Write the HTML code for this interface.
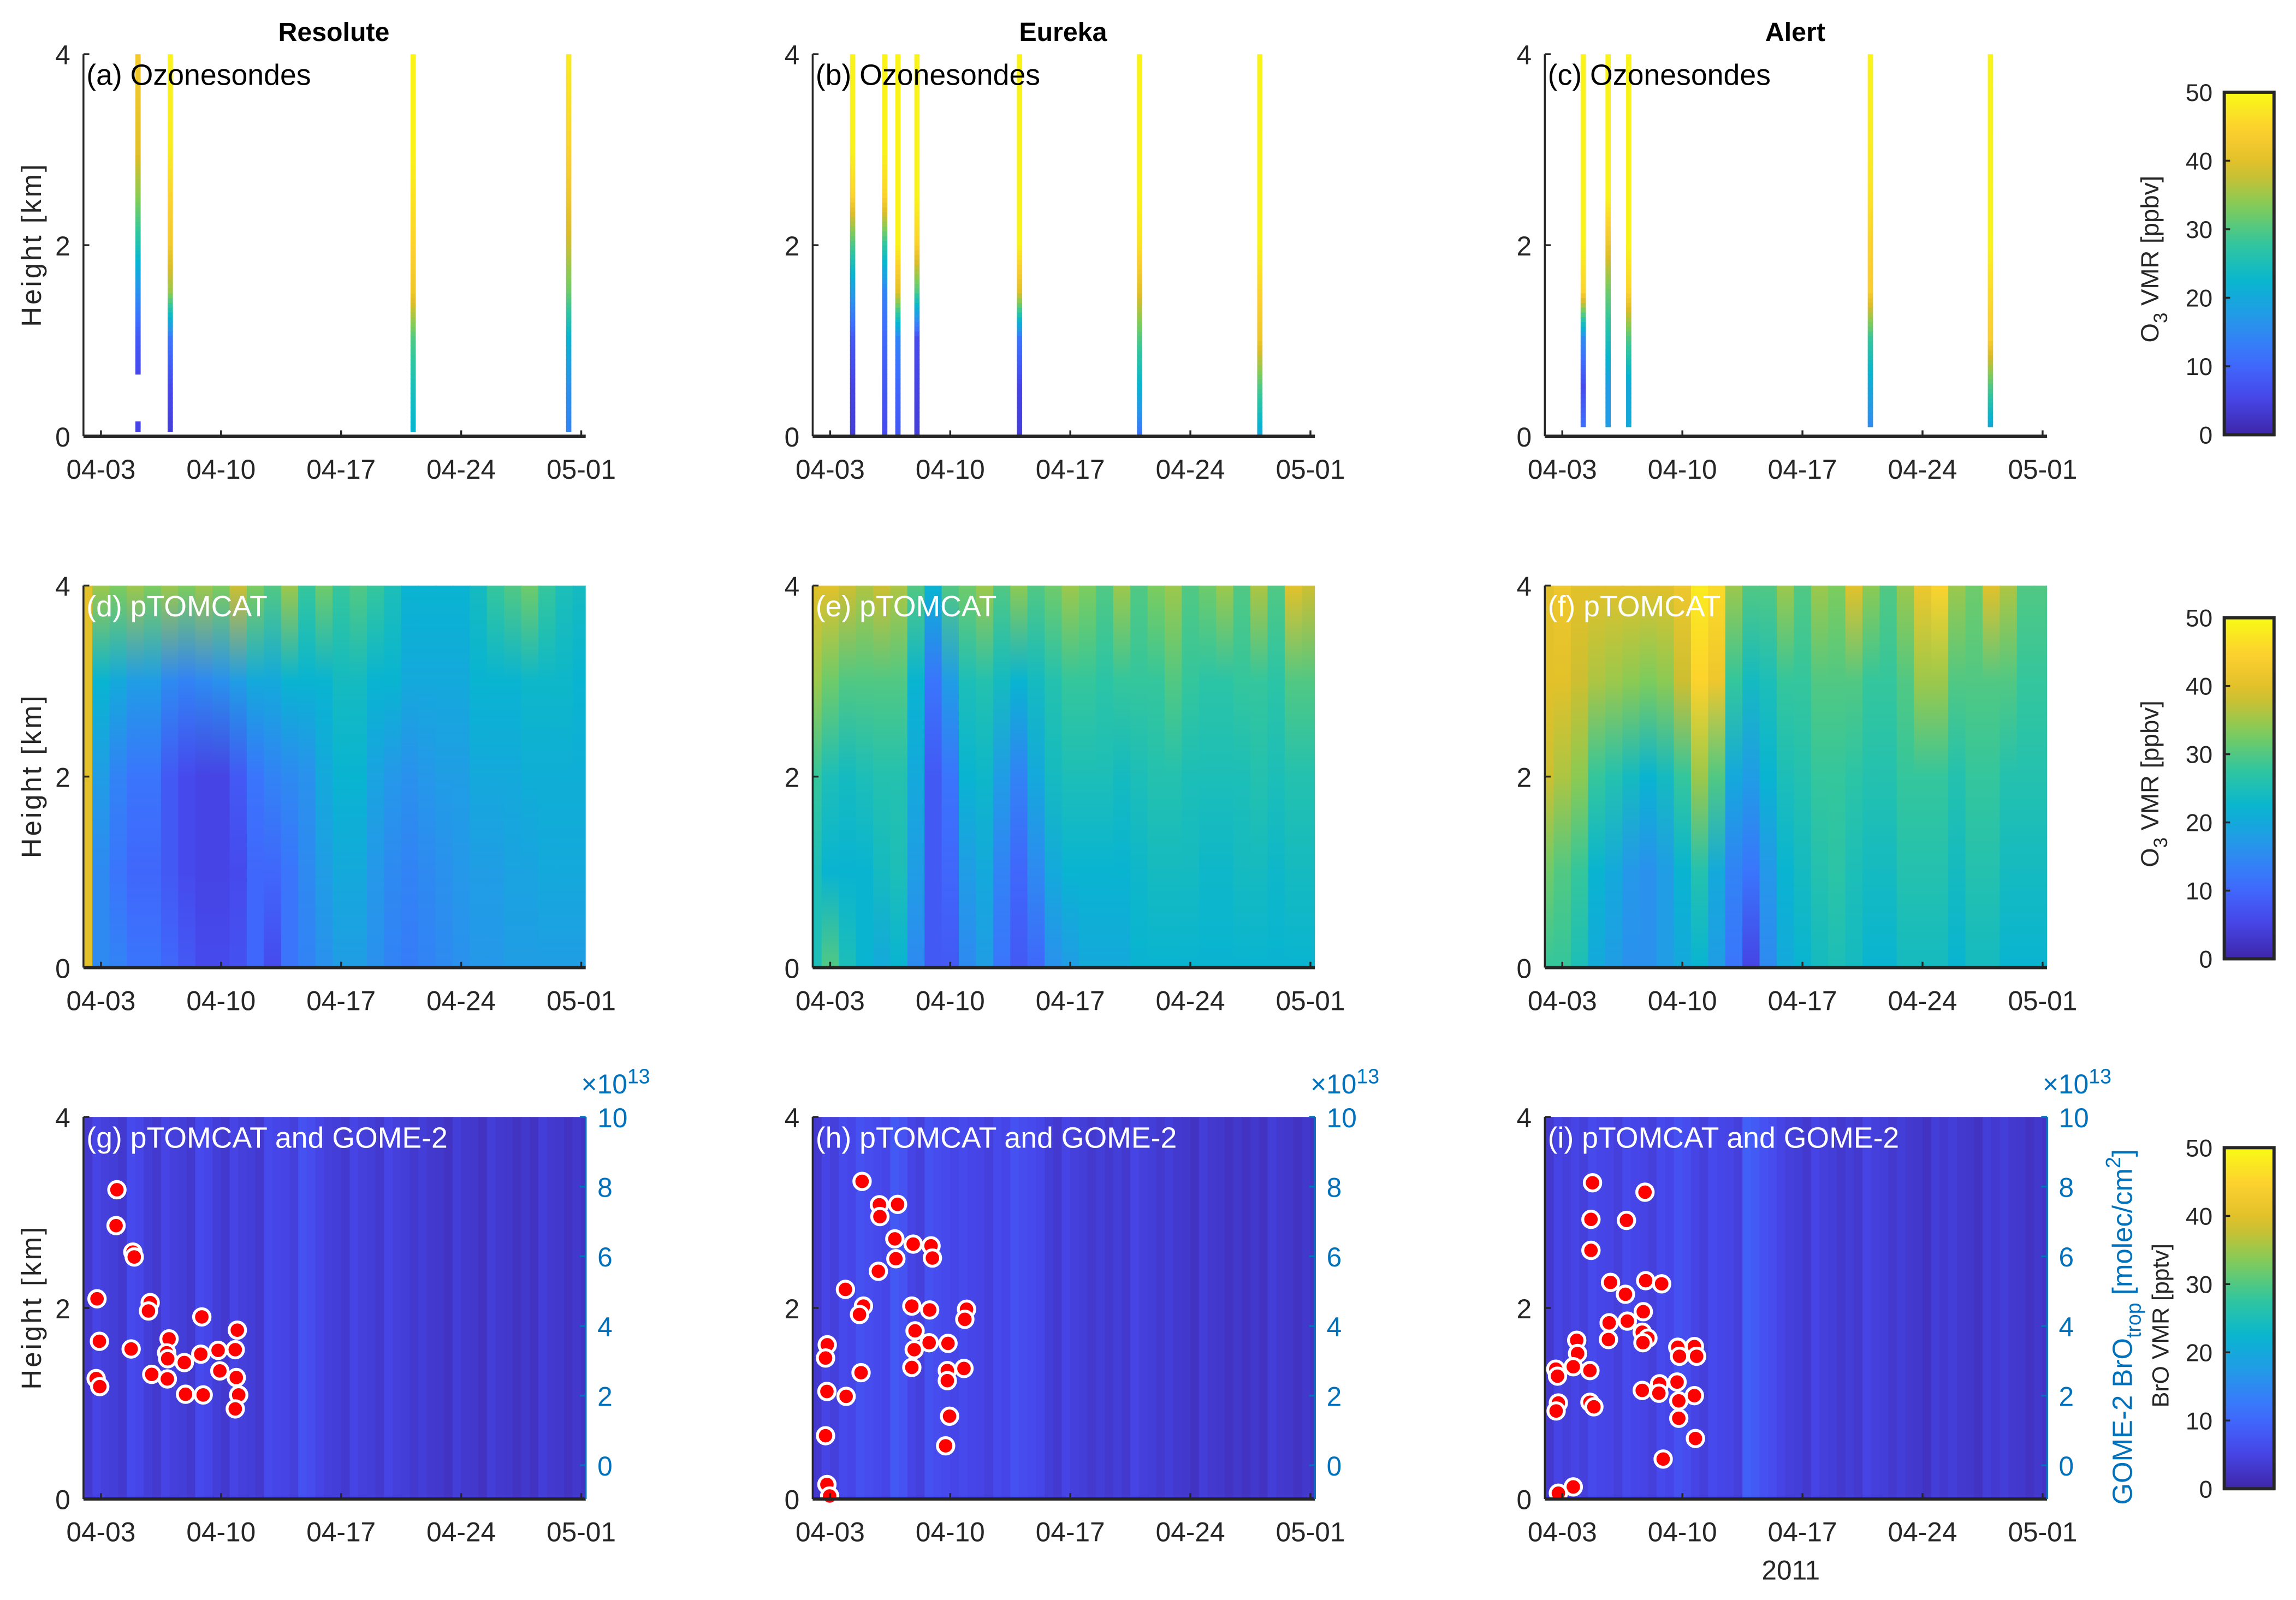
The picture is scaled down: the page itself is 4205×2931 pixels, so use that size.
<!DOCTYPE html>
<html><head><meta charset="utf-8"><style>
html,body{margin:0;padding:0;background:#fff;}
svg{display:block;font-family:"Liberation Sans",Arial,sans-serif;}
</style></head><body>
<svg id="fig" xmlns="http://www.w3.org/2000/svg" width="4205" height="2931" viewBox="0 0 1568 1093" preserveAspectRatio="none">
<defs id="defs"></defs>
<g id="root"></g>
</svg>
<script>
// ---------- data ----------
const sites = ["Resolute","Eureka","Alert"];
const tickDays = [3,10,17,24,31];
const tickLabels = ["04-03","04-10","04-17","04-24","05-01"];
const heightTicks = [0,2,4];
const cbTicks = [0,10,20,30,40,50];
const rightTicks = [0,2,4,6,8,10];
const modelLevels = [0,1,2,3,4];
const modelDays = [2,3,4,5,6,7,8,9,10,11,12,13,14,15,16,17,18,19,20,21,22,23,24,25,26,27,28,29,30,31];
const o3Resolute = [[40,40,40,40,40],[15,15,18,22,35],[14,12,14,20,33],[12,10,12,18,35],[12,10,12,18,33],[10,8,8,15,35],[8,6,6,14,33],[6,5,5,15,35],[6,5,5,16,33],[7,6,8,18,38],[10,10,12,20,33],[6,10,14,20,30],[12,12,15,22,35],[14,15,16,22,28],[16,18,20,22,32],[18,20,22,24,28],[18,20,22,24,30],[16,17,19,22,28],[14,15,17,22,25],[13,14,16,20,22],[14,15,17,20,22],[15,16,18,20,22],[16,17,18,20,22],[17,18,20,22,24],[17,18,20,22,28],[18,19,20,22,30],[18,19,21,23,32],[18,20,21,23,28],[18,20,21,23,25],[18,20,21,22,24]];
const o3Eureka = [[25,25,28,35,40],[30,22,25,32,40],[25,22,24,30,38],[22,22,25,30,36],[20,24,26,30,38],[22,25,26,30,36],[15,18,20,22,30],[8,8,8,12,22],[8,10,12,18,30],[15,18,22,25,32],[18,20,23,26,35],[12,14,18,24,30],[8,10,14,22,34],[10,15,20,24,30],[16,20,24,26,32],[18,22,25,28,35],[20,22,25,28,33],[20,22,25,27,30],[20,22,24,28,35],[22,23,25,28,30],[22,24,26,28,33],[22,24,26,30,35],[22,24,25,28,30],[22,23,25,27,32],[22,23,25,27,35],[22,24,25,28,30],[22,24,26,28,36],[22,23,25,27,30],[22,24,26,30,40],[22,24,26,30,38]];
const o3Alert = [[28,32,38,40,40],[28,30,36,40,42],[25,28,34,38,40],[20,22,28,36,40],[18,20,26,35,40],[16,17,24,34,40],[16,16,22,33,40],[18,18,24,34,40],[20,22,28,38,42],[22,26,35,45,48],[18,20,30,42,46],[12,14,20,28,35],[5,12,18,24,30],[15,17,22,25,30],[20,22,25,28,35],[22,24,26,28,30],[24,26,28,30,35],[25,27,28,30,33],[24,25,27,30,40],[22,24,26,28,34],[22,24,26,28,30],[24,26,28,30,35],[24,26,28,35,42],[24,26,28,35,45],[22,24,26,30,35],[24,26,28,30,32],[24,26,28,30,40],[22,24,26,30,36],[22,24,26,28,30],[22,24,26,28,30]];
const broResolute = [4,5,4,6,4,5,4,6,4,5,4,6,5,7,5,4,5,4,5,4,4,3,4,3,4,3,3,4,3,3];
const broEureka = [4,5,6,7,6,8,5,7,6,6,5,6,7,6,4,5,4,4,4,5,4,4,3,4,3,3,3,4,3,3];
const broAlert = [4,5,5,6,5,6,5,6,7,5,6,5,9,7,5,4,5,4,4,5,4,4,3,4,4,3,4,4,3,3];
const sondeLevels = [0,0.5,1,1.5,2,2.5,3,4];
const sondeDaysResolute = [5.16,7.04,21.2,30.27];
const sondeBottomResolute = [0.05,0.05,0.05,0.05];
const sondeProfResolute = [[5,5,8,16,26,34,40,43],[4,6,12,35,43,45,48,49],[22,25,30,42,45,47,49,49],[14,16,22,32,38,42,45,48]];
const sondeDaysEureka = [4.31,6.18,6.95,8.06,14.04,21.04,28.05];
const sondeBottomEureka = [0,0,0,0,0,0,0];
const sondeProfEureka = [[4,5,8,18,30,45,49,49],[6,8,10,14,28,45,49,49],[8,10,14,40,49,49,49,49],[4,5,6,30,45,49,49,49],[4,5,12,40,49,49,49,49],[12,22,30,40,47,49,49,49],[20,30,42,45,49,49,49,49]];
const sondeDaysAlert = [4.22,5.67,6.87,20.96,27.96];
const sondeBottomAlert = [0.1,0.1,0.1,0.1,0.1];
const sondeProfAlert = [[12,6,15,45,49,49,49,49],[18,18,25,32,42,49,49,49],[20,20,30,45,49,49,49,49],[14,20,28,44,45,47,48,49],[18,30,44,46,49,49,49,49]];
const gomeDaysResolute = [3.93,3.88,4.86,4.94,2.77,5.87,5.77,8.88,10.95,2.91,4.76,6.97,6.83,6.89,7.86,8.82,9.83,10.83,9.93,10.89,5.96,6.87,2.72,2.93,7.93,8.96,11.03,10.83];
const gomeValsResolute = [7.91,6.88,6.12,5.98,4.78,4.67,4.43,4.26,3.88,3.56,3.34,3.63,3.23,3.06,2.95,3.19,3.30,3.32,2.71,2.52,2.61,2.48,2.49,2.26,2.04,2.02,2.02,1.62];
const gomeDaysEureka = [4.86,5.87,6.93,5.90,6.77,7.84,8.88,6.83,8.96,5.81,3.89,4.94,4.71,7.76,8.80,10.95,10.85,7.95,2.83,2.73,7.90,8.77,9.87,4.80,7.76,9.83,10.80,9.83,2.81,3.93,9.96,2.73,9.73,2.81,2.97];
const gomeValsEureka = [8.15,7.48,7.49,7.14,6.50,6.35,6.30,5.93,5.95,5.57,5.05,4.57,4.33,4.57,4.46,4.48,4.19,3.86,3.46,3.08,3.32,3.52,3.50,2.66,2.81,2.72,2.78,2.43,2.12,1.98,1.41,0.85,0.56,-0.55,-0.88];
const gomeDaysAlert = [4.76,7.82,4.67,6.74,4.67,5.81,7.86,8.79,6.68,7.72,5.73,6.79,7.66,7.99,7.70,3.84,5.69,3.89,9.73,10.70,9.83,10.83,2.62,3.64,4.61,2.72,9.69,8.67,7.66,8.63,9.79,10.70,2.77,2.64,4.61,4.84,9.79,10.76,8.88,3.64,2.77];
const gomeValsAlert = [8.11,7.84,7.06,7.03,6.17,5.25,5.30,5.21,4.91,4.41,4.09,4.14,3.82,3.65,3.52,3.59,3.61,3.21,3.39,3.41,3.13,3.13,2.76,2.83,2.72,2.56,2.39,2.34,2.15,2.07,1.85,2.00,1.79,1.56,1.81,1.68,1.35,0.77,0.18,-0.62,-0.80];

// ---------- helpers ----------
const NS="http://www.w3.org/2000/svg";
const root=document.getElementById('root');
const defs=document.getElementById('defs');
const parula=[[62,38,168],[71,71,235],[62,111,255],[39,150,235],[8,181,208],[49,198,159],[129,204,89],[220,189,41],[252,207,48],[249,251,21]];
function col(v){let t=Math.max(0,Math.min(1,v/50))*(parula.length-1);let i=Math.min(parula.length-2,Math.floor(t));let f=t-i;const a=parula[i],b=parula[i+1];return `rgb(${Math.round(a[0]+(b[0]-a[0])*f)},${Math.round(a[1]+(b[1]-a[1])*f)},${Math.round(a[2]+(b[2]-a[2])*f)})`;}
function el(tag,attrs,parent){const e=document.createElementNS(NS,tag);for(const k in attrs)e.setAttribute(k,attrs[k]);(parent||root).appendChild(e);return e;}
const colX=[57,555,1055], rowY=[37,400,763], W=343, H=261;
const D0=1.98, PXD=11.714;
function xs(c,d){return colX[c]+(d-D0)*PXD;}
function ys(r,h){return rowY[r]+H-h/4*H;}
function yr(r,v){return rowY[r]+238-v*23.8;}
let gid=0;
function vgrad(levels,vals){const id='g'+(gid++);const g=el('linearGradient',{id:id,x1:0,y1:1,x2:0,y2:0},defs);levels.forEach((h,i)=>{el('stop',{offset:h/4,'stop-color':col(vals[i])},g);});return id;}
function txt(s,attrs,parent){const t=el('text',attrs,parent);t.textContent=s;return t;}

const o3Model=[o3Resolute,o3Eureka,o3Alert];
const broModel=[broResolute,broEureka,broAlert];
const sDays=[sondeDaysResolute,sondeDaysEureka,sondeDaysAlert];
const sBot=[sondeBottomResolute,sondeBottomEureka,sondeBottomAlert];
const sProf=[sondeProfResolute,sondeProfEureka,sondeProfAlert];
const gDays=[gomeDaysResolute,gomeDaysEureka,gomeDaysAlert];
const gVals=[gomeValsResolute,gomeValsEureka,gomeValsAlert];
const letters=[["a","b","c"],["d","e","f"],["g","h","i"]];
const TF=18.5;

for(let c=0;c<3;c++){
  const tt=txt(sites[c],{x:colX[c]+171,y:28,'text-anchor':'middle','font-size':18,'font-weight':'bold'});
  
  
  for(let r=0;r<3;r++){
    const pg=el('g',{});
    
    
    const cid='clip'+r+c;
    const cp=el('clipPath',{id:cid},defs);
    el('rect',{x:colX[c],y:rowY[r],width:W,height:H},cp);
    const plot=el('g',{'clip-path':`url(#${cid})`},pg);
    if(r===0){
      sDays[c].forEach((d,i)=>{
        const prof=sProf[c][i];
        for(let h=sBot[c][i];h<4-1e-6;h+=0.05){
          if(c===0&&i===0&&h>0.15&&h<0.65)continue;
          let k=0;while(k<sondeLevels.length-2&&sondeLevels[k+1]<h)k++;
          const f=(h-sondeLevels[k])/(sondeLevels[k+1]-sondeLevels[k]);
          const v=prof[k]+(prof[k+1]-prof[k])*Math.min(1,Math.max(0,f));
          const rr=el('rect',{x:xs(c,d)-1.8,y:ys(r,h+0.055),width:3.6,height:(0.055/4)*H+0.3,fill:col(v)},plot);
          
          
        }
      });
    } else if(r===1){
      modelDays.forEach((d,i)=>{
        const id=vgrad(modelLevels,o3Model[c][i]);
        const rr=el('rect',{x:xs(c,d-0.5),y:rowY[r],width:PXD+0.5,height:H,fill:`url(#${id})`},plot);
        
        
      });
    } else {
      modelDays.forEach((d,i)=>{
        for(let s=0;s<2;s++){
          const v=broModel[c][i]+(s?-0.8:0);
          const rr=el('rect',{x:xs(c,d-0.5+s*0.5),y:rowY[r],width:PXD/2+0.4,height:H,fill:col(v)},plot);
          
          
        }
      });
      gDays[c].forEach((d,i)=>{
        const dot=el('circle',{cx:xs(c,d),cy:yr(r,gVals[c][i]),r:5.6,fill:'#ff0000',stroke:'#fff','stroke-width':2},pg);
        
        
      });
    }
    const ax=el('g',{stroke:'#262626','stroke-width':1.3,fill:'none'},pg);
    el('line',{x1:colX[c],y1:rowY[r],x2:colX[c],y2:rowY[r]+H},ax);
    el('line',{x1:colX[c],y1:rowY[r]+H,x2:colX[c]+W,y2:rowY[r]+H,'stroke-width':2.2},ax);
    tickDays.forEach((d,i)=>{
      el('line',{x1:xs(c,d),y1:rowY[r]+H,x2:xs(c,d),y2:rowY[r]+H-4},ax);
      const t=txt(tickLabels[i],{x:xs(c,d),y:rowY[r]+H+29,'text-anchor':'middle','font-size':TF,fill:'#262626'},pg);
      
      
    });
    heightTicks.forEach(h=>{
      el('line',{x1:colX[c],y1:ys(r,h),x2:colX[c]+4,y2:ys(r,h)},ax);
      const t=txt(String(h),{x:colX[c]-9,y:ys(r,h)+7,'text-anchor':'end','font-size':TF,fill:'#262626'},pg);
      
      
    });
    if(r===2){
      const ra=el('g',{stroke:'#0072bd','stroke-width':1.3},pg);
      el('line',{x1:colX[c]+W,y1:rowY[r],x2:colX[c]+W,y2:rowY[r]+H},ra);
      rightTicks.forEach(v=>{
        el('line',{x1:colX[c]+W,y1:yr(r,v),x2:colX[c]+W-4,y2:yr(r,v)},ra);
        const t=txt(String(v),{x:colX[c]+W+8,y:yr(r,v)+7,'font-size':TF,fill:'#0072bd'},pg);
        
        
      });
      const ex=el('text',{x:colX[c]+W-3,y:rowY[r]-16,'font-size':TF,fill:'#0072bd'},pg);
      ex.innerHTML='×10<tspan dy="-7" font-size="14">13</tspan>';
      
      
    }
    const lab=r===0?'Ozonesondes':(r===1?'pTOMCAT':'pTOMCAT and GOME-2');
    const pl=txt(`(${letters[r][c]}) ${lab}`,{x:colX[c]+2,y:rowY[r]+21,'font-size':20,fill:r===0?'#000':'#fff'},pg);
    
    
  }
}
[167,530,893].forEach(y=>{
  const t=txt('Height [km]',{x:0,y:0,transform:`translate(28,${y}) rotate(-90)`,'text-anchor':'middle','font-size':19,'letter-spacing':1.5,fill:'#262626'});
  
  
});
const cbY=[[63,297],[422,655],[784,1017]];
const cgid=vgrad([0,4],[0,50]);
{const g=defs.lastChild;g.innerHTML='';for(let k=0;k<=20;k++)el('stop',{offset:k/20,'stop-color':col(k*2.5)},g);}
cbY.forEach((yy,i)=>{
  const g=el('g',{});
  
  
  el('rect',{x:1519,y:yy[0],width:34,height:yy[1]-yy[0],fill:`url(#${cgid})`,stroke:'#262626','stroke-width':2.2},g);
  cbTicks.forEach(v=>{
    const y=yy[1]-v/50*(yy[1]-yy[0]);
    el('line',{x1:1519,y1:y,x2:1523,y2:y,stroke:'#262626','stroke-width':1.3},g);
    const t=txt(String(v),{x:1511,y:y+6,'text-anchor':'end','font-size':16.5,fill:'#262626'},g);
    
    
  });
  const cy=(yy[0]+yy[1])/2;
  let t;
  if(i<2){
    t=el('text',{transform:`translate(1474,${cy-3}) rotate(-90)`,'text-anchor':'middle','font-size':17,fill:'#262626'},g);
    t.innerHTML='O<tspan dy="6" font-size="13">3</tspan><tspan dy="-6"> VMR [ppbv]</tspan>';
  } else {
    t=txt('BrO VMR [pptv]',{transform:`translate(1481,${cy+5}) rotate(-90)`,'text-anchor':'middle','font-size':16,fill:'#262626'},g);
    const b=el('text',{transform:`translate(1456,${cy+6}) rotate(-90)`,'text-anchor':'middle','font-size':19,fill:'#0072bd'},g);
    b.innerHTML='GOME-2 BrO<tspan dy="6" font-size="14">trop</tspan><tspan dy="-6"> [molec/cm</tspan><tspan dy="-8" font-size="14">2</tspan><tspan dy="8">]</tspan>';
    
    
  }
  
  
});
const yr2011=txt('2011',{x:1223,y:1079,'text-anchor':'middle','font-size':18.5,fill:'#262626'});


</script>
</body></html>
